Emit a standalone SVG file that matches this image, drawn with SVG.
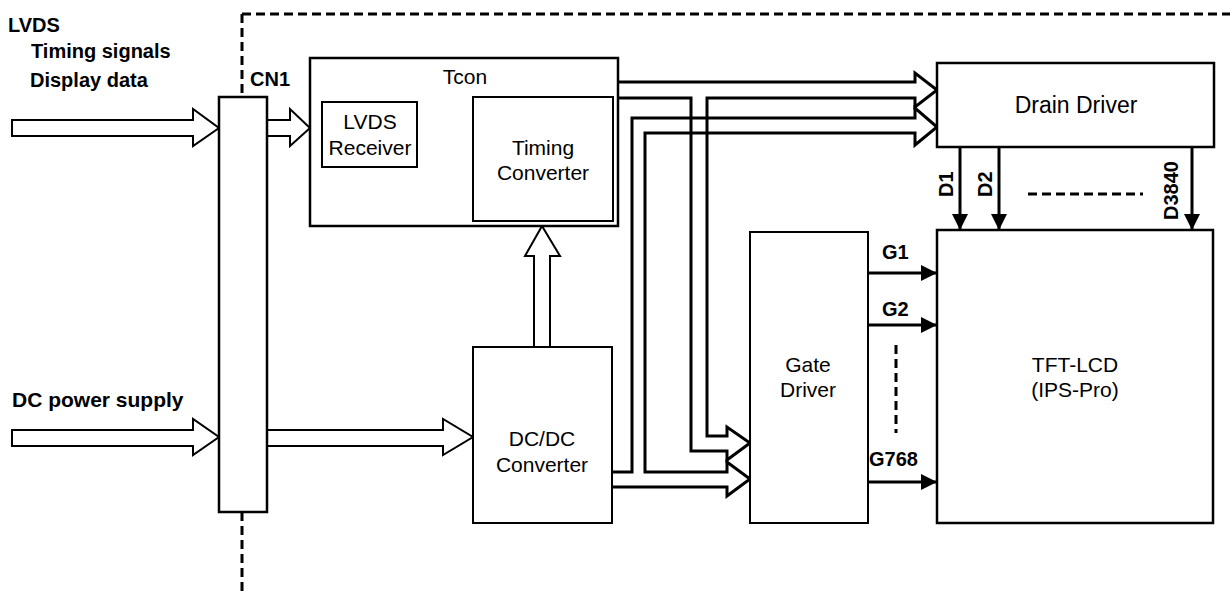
<svg xmlns="http://www.w3.org/2000/svg" width="1230" height="594" viewBox="0 0 1230 594">
<style>
  .box{fill:#fff;stroke:#000;stroke-width:2.5}
  .thin{fill:#fff;stroke:#000;stroke-width:2}
  .hollow{fill:#fff;stroke:#000;stroke-width:2;stroke-linejoin:miter}
  .bus{fill:none;stroke:#000;stroke-width:3;stroke-linejoin:miter}
  .sig{fill:none;stroke:#000;stroke-width:3}
  .dash{fill:none;stroke:#000;stroke-width:3;stroke-dasharray:9 5}
  .t{font-family:"Liberation Sans",Arial,sans-serif;font-size:21px;fill:#000}
  .b{font-family:"Liberation Sans",Arial,sans-serif;font-size:20px;font-weight:bold;fill:#000}
  .c{text-anchor:middle}
</style>
<defs>
  <marker id="ah" viewBox="0 0 16 16" refX="16" refY="8" markerWidth="16" markerHeight="16" markerUnits="userSpaceOnUse" orient="auto">
    <path d="M0,0 L16,8 L0,16 Z" fill="#000"/>
  </marker>
</defs>

<g id="boundary">
  <path class="dash" d="M242,14 H1230 M242,14 V97 M242,512 V594"/>
</g>

<g id="labels-inputs">
  <text class="b" x="8" y="32">LVDS</text>
  <text class="b" x="31" y="58">Timing signals</text>
  <text class="b" x="30" y="87">Display data</text>
  <text class="b" x="12" y="407" style="font-size:21px">DC power supply</text>
</g>

<g id="connectors">
  <!-- input hollow arrows -->
  <path class="hollow" d="M12,120 H193 V109 L219,128 L193,146 V136 H12 Z"/>
  <path class="hollow" d="M12,430 H193 V419 L219,437 L193,455 V446 H12 Z"/>
  <path class="hollow" d="M267,120 H290 V109 L310,128 L290,146 V136 H267"/>
  <path class="hollow" d="M417,121 H448 V110 L473,129 L448,148 V138 H417"/>
  <path class="hollow" d="M267,430 H443 V419 L473,437 L443,455 V446 H267"/>
  <path class="hollow" d="M534,347 V256 H525 L542,226 L560,256 H550 V347"/>
  <!-- buses -->
  <path class="bus" d="M618,82 H915 V73 L937,90 L915,107 V98 H707 V436 H727 V427 L750,443 L727,460 V451 H691 V98 H618"/>
  <path class="bus" d="M612,472 H632 V118 H915 V108 L937,127 L915,145 V133 H645 V472 H727 V462 L750,479 L727,496 V487 H612"/>
  <!-- drain lines -->
  <line class="sig" x1="960" y1="147" x2="960" y2="230" marker-end="url(#ah)"/>
  <line class="sig" x1="999" y1="147" x2="999" y2="230" marker-end="url(#ah)"/>
  <line class="sig" x1="1192" y1="147" x2="1192" y2="230" marker-end="url(#ah)"/>
  <line class="dash" x1="1028" y1="194" x2="1143" y2="194"/>
  <!-- gate lines -->
  <line class="sig" x1="868" y1="273" x2="937" y2="273" marker-end="url(#ah)"/>
  <line class="sig" x1="868" y1="325" x2="937" y2="325" marker-end="url(#ah)"/>
  <line class="sig" x1="868" y1="482" x2="937" y2="482" marker-end="url(#ah)"/>
  <line class="dash" x1="896" y1="345" x2="896" y2="433"/>
  <text class="b" transform="translate(953,197) rotate(-90)">D1</text>
  <text class="b" transform="translate(992,197) rotate(-90)">D2</text>
  <text class="b" transform="translate(1178,220) rotate(-90)">D3840</text>
  <text class="b" x="882" y="259">G1</text>
  <text class="b" x="882" y="316">G2</text>
  <text class="b" x="869" y="466">G768</text>
</g>

<g id="cn1">
  <rect class="box" x="219" y="97" width="48" height="415"/>
  <text class="b" x="250" y="86">CN1</text>
</g>

<g id="tcon">
  <rect class="box" x="310" y="58" width="308" height="168"/>
  <text class="t c" x="465" y="84">Tcon</text>
</g>

<g id="lvds-receiver">
  <rect class="thin" x="322" y="102" width="95" height="65"/>
  <text class="t c" x="370" y="129">LVDS</text>
  <text class="t c" x="370" y="155">Receiver</text>
</g>

<g id="timing-converter">
  <rect class="thin" x="473" y="97" width="140" height="124"/>
  <text class="t c" x="543" y="155">Timing</text>
  <text class="t c" x="543" y="180">Converter</text>
</g>

<g id="drain-driver">
  <rect class="box" x="937" y="63" width="277" height="84"/>
  <text class="t c" x="1076" y="113" style="font-size:23px">Drain Driver</text>
</g>

<g id="gate-driver">
  <rect class="thin" x="750" y="232" width="118" height="291"/>
  <text class="t c" x="808" y="372">Gate</text>
  <text class="t c" x="808" y="397">Driver</text>
</g>

<g id="tft-lcd">
  <rect class="box" x="937" y="230" width="276" height="293"/>
  <text class="t c" x="1075" y="372">TFT-LCD</text>
  <text class="t c" x="1075" y="397">(IPS-Pro)</text>
</g>

<g id="dcdc">
  <rect class="thin" x="473" y="347" width="139" height="176"/>
  <text class="t c" x="542" y="446">DC/DC</text>
  <text class="t c" x="542" y="472">Converter</text>
</g>
</svg>
